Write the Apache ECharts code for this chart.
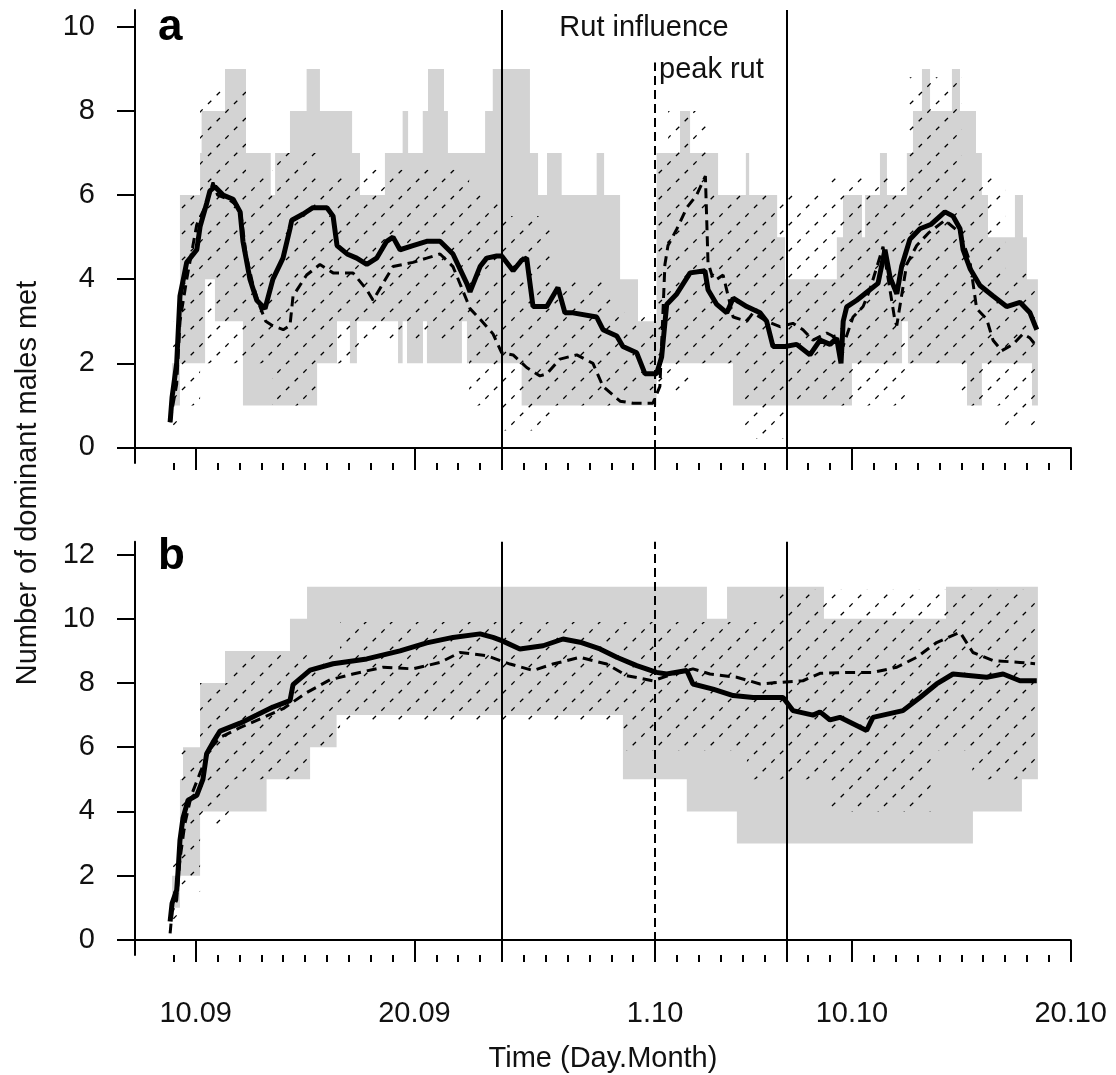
<!DOCTYPE html>
<html>
<head>
<meta charset="utf-8">
<script src="https://cdn.jsdelivr.net/npm/echarts@6/dist/echarts.min.js"></script>
<style>
html, body { margin: 0; padding: 0; background: #fff; }
#main { width: 1116px; height: 1075px; }
</style>
</head>
<body>
<div id="main"></div>
<script>
// x values are day numbers counted from 31 Aug (10 = 10.09, 31 = 1.10, 40 = 10.10)
var xTickDays = [10, 20, 31, 40, 50];
var xTickLabels = ['10.09', '20.09', '1.10', '10.10', '20.10'];
var xMinorDays = [9,10,11,12,13,14,15,16,17,18,19,20,21,22,23,24,25,26,27,28,29,30,31,32,33,34,35,36,37,38,39,40,41,42,43,44,45,46,47,48,49,50];
var yTicksA = [0, 2, 4, 6, 8, 10];
var yTicksB = [0, 2, 4, 6, 8, 10, 12];
var rutBounds = [24, 37];   // rut influence period
var peakRut = 31;
var peakRutTopA = 9.15;     // dashed line in panel a stops under the text

// panel a: step bands [day, value] (value holds until next day)
var aGreyHi = [[8.92,2],[9.28,6],[10.20,7],[10.27,8],[11.34,9],[12.30,7],[13.43,6],[13.63,7],[14.31,8],[15.07,9],[15.68,8],[17.15,7],[17.51,6],[18.65,7],[19.46,8],[19.71,7],[20.38,8],[20.62,9],[21.35,8],[21.53,7],[23.23,8],[23.58,9],[25.28,7],[25.65,6],[26.06,7],[26.73,6],[28.33,7],[28.67,6],[29.40,4],[30.22,3],[31.07,7],[32.14,8],[32.60,7],[33.88,6],[35.15,7],[35.30,6],[36.58,5],[36.94,4],[39.31,5],[39.59,6],[40.46,5],[40.60,6],[41.28,7],[41.60,6],[42.51,7],[42.79,8],[43.20,9],[43.57,8],[44.57,9],[44.94,8],[45.67,7],[45.94,6],[46.22,5],[47.45,6],[47.82,5],[48.00,4],[48.50,4]];
var aGreyLo = [[8.92,1],[9.28,2],[10.43,4],[10.88,3],[12.16,1],[15.55,2],[16.46,3],[17.05,2],[17.37,3],[19.25,2],[19.46,3],[19.66,2],[20.39,3],[20.57,2],[22.17,3],[22.40,2],[24.90,1],[31.07,2],[34.56,1],[40.00,2],[42.29,3],[42.56,2],[45.26,1],[45.94,2],[48.23,1],[48.50,1]];
var aHatchHi = [[8.83,3],[9.28,6],[10.20,8.5],[12.30,6.5],[13.50,7],[15.55,6.5],[17.50,6.6],[22.50,6],[24.00,5.5],[26.30,4],[29.00,3.2],[31.07,6.8],[31.60,8],[33.40,6],[39.00,6.5],[42.50,8.8],[45.00,6.5],[47.00,4.2],[48.50,4.2]];
var aHatchLo = [[8.83,0],[9.28,1],[10.20,2],[13.50,1],[15.55,2],[17.50,2.5],[22.50,1],[24.00,0.4],[26.30,1],[29.00,1.3],[32.60,2],[35.00,0.2],[37.00,1.1],[39.00,1],[42.50,2],[45.00,1],[47.00,0.5],[48.50,0.5]];
var aSolid = [[8.83,0.6],[8.92,1.2],[9.13,2.0],[9.28,3.6],[9.59,4.4],[10.05,4.7],[10.20,5.25],[10.50,5.8],[10.65,6.1],[10.88,6.2],[11.25,6.0],[11.71,5.9],[12.03,5.6],[12.16,4.9],[12.48,4.0],[12.79,3.5],[13.17,3.3],[13.53,4.0],[13.99,4.5],[14.31,5.2],[14.39,5.4],[14.91,5.55],[15.36,5.7],[16.00,5.7],[16.28,5.5],[16.46,4.8],[16.92,4.6],[17.36,4.5],[17.82,4.35],[18.27,4.5],[18.73,4.9],[19.02,5.0],[19.34,4.7],[19.93,4.8],[20.56,4.9],[21.17,4.9],[21.76,4.6],[22.39,3.9],[22.54,3.7],[23.00,4.3],[23.30,4.5],[23.76,4.55],[23.99,4.55],[24.51,4.2],[24.90,4.45],[25.13,4.5],[25.42,3.35],[26.05,3.35],[26.56,3.8],[26.88,3.2],[27.25,3.2],[28.33,3.1],[28.62,2.8],[29.25,2.65],[29.53,2.4],[30.16,2.25],[30.54,1.75],[31.07,1.75],[31.30,2.15],[31.53,3.4],[31.99,3.65],[32.60,4.15],[33.28,4.2],[33.42,3.75],[33.82,3.4],[34.28,3.2],[34.57,3.55],[35.19,3.35],[35.80,3.2],[36.10,3.0],[36.39,2.4],[36.94,2.4],[37.47,2.45],[38.08,2.2],[38.54,2.55],[39.00,2.45],[39.30,2.6],[39.50,2.0],[39.60,3.0],[39.76,3.34],[40.22,3.5],[40.82,3.75],[41.19,3.9],[41.51,4.7],[41.74,4.05],[42.05,3.65],[42.27,4.3],[42.65,4.95],[43.11,5.2],[43.60,5.3],[44.25,5.6],[44.62,5.5],[44.94,5.2],[45.08,4.7],[45.40,4.25],[45.85,3.85],[46.45,3.6],[47.07,3.35],[47.68,3.45],[48.14,3.2],[48.37,2.9],[48.45,2.8]];
var aDashed = [[8.83,0.6],[8.92,0.9],[9.13,1.5],[9.28,3.0],[9.59,4.0],[10.05,5.3],[10.50,5.8],[10.79,6.3],[11.00,6.0],[11.50,5.9],[12.03,5.7],[12.30,4.6],[12.60,3.9],[12.90,3.4],[13.20,3.0],[13.50,2.9],[14.00,2.8],[14.31,2.9],[14.45,3.6],[15.07,4.1],[15.68,4.35],[16.28,4.15],[17.19,4.15],[17.82,3.75],[18.11,3.5],[18.56,3.9],[19.02,4.3],[19.93,4.4],[20.56,4.5],[21.17,4.6],[21.76,4.3],[22.39,3.5],[22.54,3.3],[23.00,3.05],[23.59,2.7],[23.99,2.25],[24.51,2.2],[25.13,1.9],[25.74,1.7],[26.05,1.75],[26.65,2.1],[27.42,2.2],[28.16,2.0],[28.62,1.45],[29.40,1.1],[29.99,1.05],[30.90,1.05],[31.22,1.45],[31.45,4.35],[31.59,4.8],[32.00,5.2],[32.45,5.7],[32.90,6.0],[33.30,6.45],[33.42,4.4],[33.65,4.0],[33.82,4.0],[34.11,4.1],[34.57,3.1],[35.19,3.0],[35.48,3.2],[36.10,3.0],[36.71,2.87],[37.30,2.95],[37.76,2.8],[38.22,2.55],[38.85,2.72],[39.30,2.6],[39.59,2.4],[40.05,3.1],[40.51,3.35],[40.82,3.75],[41.42,4.77],[41.97,3.0],[42.05,2.9],[42.50,4.35],[42.96,4.8],[43.50,5.1],[44.25,5.4],[44.94,5.1],[45.40,4.4],[45.70,3.3],[46.16,3.05],[46.45,2.55],[46.85,2.3],[47.36,2.45],[47.82,2.7],[48.14,2.6],[48.45,2.4]];

// panel b
var bGreyHi = [[8.92,2],[9.28,5],[9.42,6],[10.20,8],[11.34,9],[14.31,10],[15.09,11],[33.37,10],[34.29,11],[38.72,10],[44.30,11],[48.50,11]];
var bGreyLo = [[8.92,1],[9.28,2],[10.20,4],[13.24,5],[15.23,6],[16.44,7],[29.53,5],[32.45,4],[34.74,3],[45.53,4],[47.77,5],[48.50,5]];
var bHatchHi = [[8.83,3],[9.28,6],[10.20,8],[11.60,9],[16.60,9.9],[36.70,10.9],[48.50,10.9]];
var bHatchLo = [[8.83,0],[9.28,1.5],[10.20,3.5],[11.60,5],[15.20,6],[16.60,6.8],[29.40,5.9],[35.20,5],[39.00,4],[43.60,5.9],[45.50,5],[48.50,5]];
var bSolid = [[8.83,0.57],[8.92,1.14],[9.13,1.55],[9.19,2.1],[9.28,3.1],[9.42,3.8],[9.65,4.35],[10.05,4.5],[10.33,5.0],[10.50,5.8],[10.79,6.15],[11.11,6.5],[12.03,6.75],[12.79,7.0],[13.53,7.25],[14.31,7.45],[14.45,7.95],[15.23,8.4],[16.28,8.6],[17.82,8.75],[19.34,9.0],[20.56,9.25],[21.76,9.42],[23.00,9.53],[23.59,9.42],[23.99,9.32],[24.82,9.06],[25.88,9.16],[26.79,9.37],[27.57,9.27],[28.48,9.06],[29.25,8.8],[30.16,8.54],[31.07,8.33],[31.53,8.28],[32.45,8.39],[32.73,7.97],[33.65,7.81],[34.57,7.61],[35.48,7.55],[36.85,7.55],[37.30,7.14],[38.22,7.0],[38.54,7.1],[39.00,6.85],[39.45,6.93],[40.67,6.52],[40.96,6.93],[42.33,7.14],[43.11,7.55],[43.87,7.97],[44.62,8.28],[46.16,8.18],[46.91,8.28],[47.68,8.07],[48.45,8.07]];
var bDashed = [[8.83,0.2],[8.92,0.88],[9.13,1.24],[9.28,2.5],[9.50,3.6],[9.80,4.5],[10.20,5.2],[10.60,5.9],[11.10,6.3],[12.00,6.6],[13.00,6.9],[14.00,7.2],[15.07,7.7],[16.14,8.1],[17.19,8.28],[18.56,8.49],[19.93,8.44],[21.17,8.64],[22.08,8.95],[23.30,8.85],[24.37,8.59],[25.42,8.39],[26.33,8.59],[27.57,8.8],[28.79,8.59],[29.70,8.23],[30.90,8.07],[31.82,8.28],[32.73,8.44],[33.51,8.28],[34.73,8.18],[35.80,7.97],[36.71,8.02],[37.76,8.07],[38.54,8.3],[39.91,8.33],[40.96,8.33],[42.05,8.49],[42.96,8.8],[43.87,9.26],[44.94,9.58],[45.53,8.95],[46.45,8.7],[47.68,8.64],[48.37,8.6]];

var FONT = '"Liberation Sans", Arial, sans-serif';
var GREY = '#d3d3d3';

// diagonal dashed hatching tile (like R polygon density/angle)
function makeHatch(size, nDash) {
  var c = document.createElement('canvas');
  c.width = size; c.height = size;
  var g = c.getContext('2d');
  var period = size * Math.SQRT2 / nDash;
  g.strokeStyle = '#000';
  g.lineWidth = 1.3;
  g.setLineDash([period * 0.38, period * 0.62]);
  for (var k = 0; k <= 2; k++) {
    var c0 = k * size;
    g.beginPath();
    g.moveTo(-size, c0 + size);
    g.lineTo(c0 + size, -size);
    g.stroke();
  }
  return c;
}
var hatchFill = { image: makeHatch(26, 3), repeat: 'repeat' };

function stepPts(arr) {
  var pts = [];
  for (var i = 0; i < arr.length - 1; i++) {
    pts.push([arr[i][0], arr[i][1]]);
    pts.push([arr[i + 1][0], arr[i][1]]);
  }
  return pts;
}

function band(gi, hi, lo, fill, z) {
  return {
    type: 'custom', xAxisIndex: gi * 2, yAxisIndex: gi, silent: true, z: z,
    data: [[hi[0][0], hi[0][1]]],
    renderItem: function (params, api) {
      var pts = stepPts(hi).concat(stepPts(lo).reverse()).map(function (p) { return api.coord(p); });
      return { type: 'polygon', shape: { points: pts }, style: { fill: fill, stroke: null } };
    }
  };
}

function line(gi, data, dashed, marks) {
  var s = {
    type: 'line', xAxisIndex: gi * 2, yAxisIndex: gi, data: data, z: 5,
    showSymbol: false, symbol: 'none', silent: true,
    lineStyle: dashed ? { color: '#000', width: 3, type: [10, 6] } : { color: '#000', width: 5 }
  };
  if (marks) {
    var peak = gi === 0
      ? [{ coord: [peakRut, -0.37], lineStyle: { type: [9, 5] } }, { coord: [peakRut, peakRutTopA] }]
      : { xAxis: peakRut, lineStyle: { type: [9, 5] } };
    s.markLine = {
      silent: true, symbol: ['none', 'none'], label: { show: false },
      lineStyle: { color: '#000', width: 2, type: 'solid' },
      data: [{ xAxis: rutBounds[0] }, peak, { xAxis: rutBounds[1] }]
    };
  }
  return s;
}

function xAxes(gi, showLabels) {
  var major = {
    gridIndex: gi, type: 'value', position: 'bottom', min: 7.225, max: 50,
    axisLine: { show: true, lineStyle: { color: '#000', width: 2 } },
    axisTick: { show: true, customValues: xTickDays, length: 20, lineStyle: { color: '#000', width: 2 } },
    axisLabel: {
      show: showLabels, customValues: xTickDays, margin: 44, fontSize: 29, fontFamily: FONT, color: '#111',
      formatter: function (v) { return xTickLabels[xTickDays.indexOf(Math.round(v))]; }
    },
    splitLine: { show: false }
  };
  var minor = {
    gridIndex: gi, type: 'value', position: 'bottom', min: 7.225, max: 50,
    axisLine: { show: false },
    axisTick: { show: true, customValues: xMinorDays, length: 7, lineStyle: { color: '#000', width: 2 } },
    axisLabel: { show: false },
    splitLine: { show: false }
  };
  return [major, minor];
}

function yAxis(gi, min, max, ticks) {
  return {
    gridIndex: gi, type: 'value', min: min, max: max,
    axisLine: { show: true, lineStyle: { color: '#000', width: 2 } },
    axisTick: { show: true, customValues: ticks, length: 18, lineStyle: { color: '#000', width: 2 } },
    axisLabel: { show: true, customValues: ticks, margin: 40, fontSize: 29, fontFamily: FONT, color: '#111' },
    splitLine: { show: false }
  };
}

var chart = echarts.init(document.getElementById('main'), null, { renderer: 'canvas' });
chart.setOption({
  animation: false,
  backgroundColor: '#fff',
  grid: [
    { left: 135, top: 10, width: 935.7, height: 453 },
    { left: 135, top: 541.7, width: 935.7, height: 413.3 }
  ],
  xAxis: xAxes(0, false).concat(xAxes(1, true)),
  yAxis: [yAxis(0, -0.37, 10.4, yTicksA), yAxis(1, -0.47, 12.4, yTicksB)],
  series: [
    band(0, aGreyHi, aGreyLo, GREY, 1),
    band(0, aHatchHi, aHatchLo, hatchFill, 2),
    line(0, aDashed, true, false),
    line(0, aSolid, false, true),
    band(1, bGreyHi, bGreyLo, GREY, 1),
    band(1, bHatchHi, bHatchLo, hatchFill, 2),
    line(1, bDashed, true, false),
    line(1, bSolid, false, true)
  ],
  graphic: [
    { type: 'text', x: 158, y: 28, style: { text: 'a', font: 'bold 44px ' + FONT, fill: '#000', verticalAlign: 'middle' } },
    { type: 'text', x: 158, y: 557, style: { text: 'b', font: 'bold 44px ' + FONT, fill: '#000', verticalAlign: 'middle' } },
    { type: 'text', x: 644, y: 28, style: { text: 'Rut influence', font: '29px ' + FONT, fill: '#111', align: 'center', verticalAlign: 'middle' } },
    { type: 'text', x: 659, y: 70, style: { text: 'peak rut', font: '29px ' + FONT, fill: '#111', align: 'left', verticalAlign: 'middle' } },
    { type: 'text', x: 603, y: 1059, style: { text: 'Time (Day.Month)', font: '29px ' + FONT, fill: '#111', align: 'center', verticalAlign: 'middle' } },
    { type: 'text', x: 28, y: 483, rotation: Math.PI / 2, style: { text: 'Number of dominant males met', font: '29px ' + FONT, fill: '#111', align: 'center', verticalAlign: 'middle' } }
  ]
});
</script>
</body>
</html>
